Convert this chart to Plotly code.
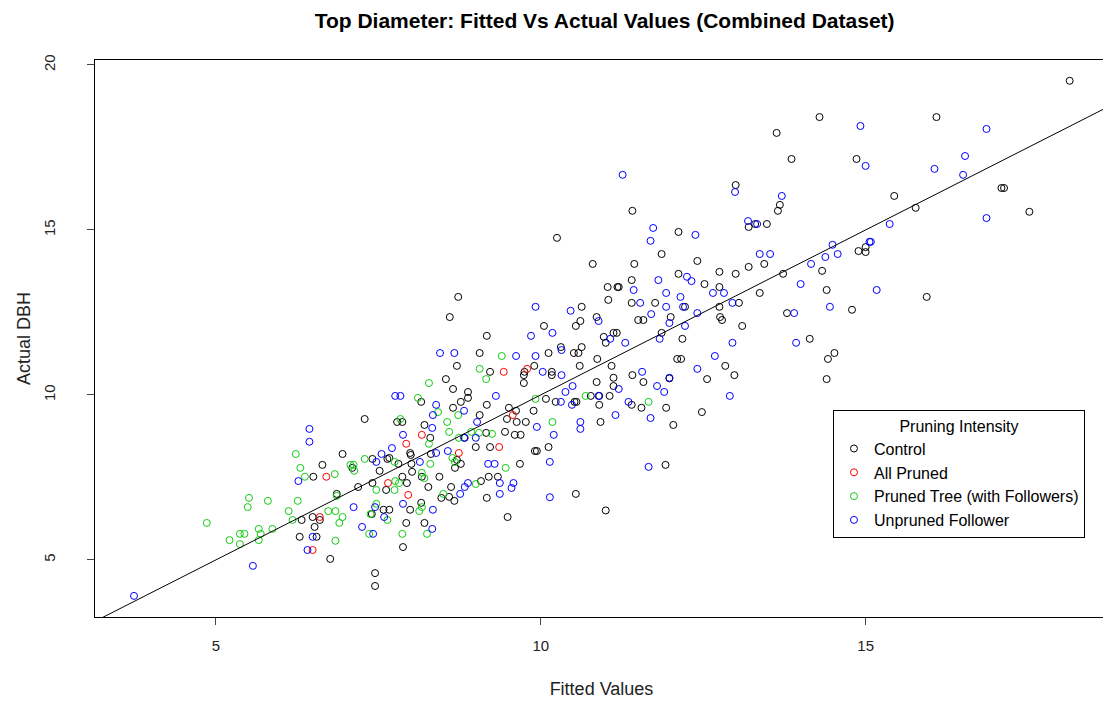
import plotly.graph_objs as go

# Control
control_fitted = [7.29, 6.95, 7.41, 7.64, 6.64, 7.10, 7.52, 6.50, 7.41, 7.19, 7.62, 6.86, 7.58, 7.40, 6.49, 6.60, 6.32, 6.52, 6.29, 6.55, 6.76, 7.45, 7.45,
                  8.73, 8.60, 9.17, 9.06, 8.71, 9.22, 9.75, 9.90, 9.74, 9.74, 8.54, 8.65, 8.88, 8.88, 8.77, 8.16, 8.65, 9.17, 9.51, 9.62, 9.89, 9.06, 7.79, 7.87, 8.21, 9.48, 9.63, 9.77,
                  8.30, 7.99, 8.00, 8.31, 7.67, 7.81, 8.01, 8.71, 8.77, 8.68, 8.02, 8.17, 8.44, 7.87, 7.94, 8.27, 8.62, 8.47, 8.59, 8.67, 9.08, 9.20, 9.34, 9.17, 9.49, 9.00, 9.22, 8.82, 9.16, 9.45, 9.60, 9.69, 9.68, 9.91, 9.94, 7.99, 8.16, 7.67, 7.93, 8.21, 7.88,
                  10.63, 11.40, 11.76, 12.22, 12.00, 10.61, 10.86, 11.50, 11.58, 10.05, 10.54, 11.12, 11.17, 10.97, 11.00, 11.86, 12.18, 10.31, 10.63, 10.12, 10.51, 10.58, 10.87, 12.10, 12.16, 10.60, 11.09, 10.17, 10.17, 11.41, 11.98, 11.12, 10.86, 11.58, 11.12, 10.77, 10.90, 11.06, 10.08, 10.23, 10.52, 10.55, 11.40, 10.90, 11.55, 11.93, 10.92, 12.04, 10.12, 11.92,
                  11.41, 10.25, 12.12, 11.86, 10.80, 11.44, 11.40, 12.12, 11.03, 11.18, 11.20, 11.04,
                  14.29, 13.63, 13.86, 13.00, 13.68, 13.65, 13.20, 13.30, 13.48, 12.41, 13.44, 13.20, 12.75, 13.00, 12.52, 12.75, 13.37, 13.73, 14.33, 14.40,
                  12.75, 13.05, 12.76, 12.79, 13.10, 13.79, 14.14, 12.84, 12.56, 12.98, 12.48, 14.42, 14.52, 14.40,
                  16.09, 14.86, 15.44, 15.77, 14.89, 15.00, 15.00, 14.79, 15.94,
                  18.14, 17.09, 17.13, 17.52, 10.54, 11.00]
control_actual = [9.27, 8.21, 8.06, 8.06, 7.88, 7.79, 7.70, 7.52, 7.33, 7.21, 7.12, 7.00, 6.52, 6.39, 6.30, 6.21, 6.21, 6.00, 5.70, 5.70, 5.03, 4.60, 4.21,
                  12.97, 12.36, 11.79, 11.27, 10.88, 10.70, 10.70, 10.88, 10.60, 10.36, 10.48, 10.18, 10.09, 9.91, 9.79, 9.79, 9.61, 9.70, 9.61, 9.52, 9.52, 9.39, 9.18, 9.18, 9.09, 9.27, 9.18, 9.18,
                  8.70, 8.24, 8.18, 8.21, 8.09, 7.91, 7.91, 8.03, 7.91, 7.79, 7.67, 7.52, 7.52, 7.52, 7.33, 7.21, 7.21, 6.88, 6.91, 6.79, 7.39, 7.52, 7.52, 6.88, 6.30, 8.42, 8.42, 8.70, 8.85, 8.88, 8.79, 8.79, 7.91, 8.30, 8.30, 6.52, 6.73, 6.52, 6.12, 6.12, 5.39,
                  12.67, 12.79, 12.79, 12.67, 12.36, 12.24, 12.36, 12.27, 12.27, 12.09, 12.09, 11.88, 11.88, 11.76, 11.58, 11.88, 11.70, 11.45, 11.45, 11.27, 11.27, 11.27, 11.09, 11.09, 11.09, 10.88, 10.88, 10.70, 10.60, 10.60, 10.50, 10.52, 10.39, 10.39, 10.27, 9.97, 9.97, 9.97, 9.88, 9.79, 9.79, 9.79, 9.70, 9.70, 9.61, 9.61, 9.18, 9.09, 8.42, 7.88,
                  15.58, 14.76, 14.94, 14.27, 13.97, 13.97, 13.48, 13.67, 13.27, 13.27, 13.27, 12.88,
                  18.42, 17.94, 17.15, 16.36, 15.76, 15.58, 15.09, 15.18, 15.18, 14.06, 13.97, 13.88, 13.73, 13.67, 13.36, 13.27, 13.09, 13.67, 13.76, 13.18,
                  12.67, 12.79, 12.36, 12.27, 12.09, 12.48, 11.70, 10.88, 10.48, 10.60, 9.48, 11.09, 11.27, 10.48,
                  18.42, 17.15, 16.03, 15.67, 14.36, 14.48, 14.33, 12.58, 12.97,
                  19.52, 16.27, 16.27, 15.55, 7.00, 6.50]

# All Pruned
allpruned_fitted = [6.70, 7.65, 6.60, 6.49, 9.43, 9.79, 9.57, 8.17, 7.93, 8.74, 9.36, 7.96]
allpruned_actual = [7.52, 7.33, 6.30, 5.30, 10.70, 10.79, 9.39, 8.79, 8.52, 8.24, 8.42, 6.97]

# Pruned Tree (with Followers)
prunedtree_fitted = [5.51, 5.49, 4.86, 5.21, 5.37, 5.44, 5.37,
                     6.23, 7.29, 7.07, 7.12, 7.13, 6.30, 6.83, 6.37, 7.47, 6.86,
                     5.80, 6.26, 6.12, 6.73, 6.84, 7.47, 7.38, 7.64, 6.95, 6.18, 6.90, 5.87, 5.66, 7.36, 5.69, 5.66, 6.84,
                     9.40, 9.06, 9.16, 8.28, 8.11, 8.42, 8.73, 9.92, 8.56, 7.84,
                     8.59, 8.28, 7.75, 8.30, 8.64, 8.68, 8.17, 8.21, 7.76, 7.82, 7.75, 8.50, 9.00, 9.05, 9.25, 8.93, 8.74, 9.46, 8.17, 8.13, 8.25, 7.87,
                     10.69, 11.66, 10.18]
prunedtree_actual = [6.88, 6.60, 6.12, 5.60, 5.79, 5.79, 5.48,
                     8.21, 8.06, 7.88, 7.88, 7.70, 7.79, 7.60, 7.52, 7.12, 6.94,
                     6.79, 6.79, 6.48, 6.48, 6.48, 6.70, 6.39, 6.21, 6.30, 6.21, 6.12, 5.94, 5.94, 5.79, 5.79, 5.60, 5.58,
                     11.18, 10.79, 10.48, 10.36, 9.91, 9.48, 9.39, 9.88, 9.18, 9.27,
                     8.88, 8.52, 7.97, 7.91, 8.09, 7.97, 7.64, 7.48, 7.39, 7.33, 7.12, 7.00, 7.30, 8.85, 8.82, 8.88, 8.70, 7.79, 6.60, 6.48, 5.79, 5.79,
                     9.97, 9.79, 9.18]

# Unpruned Follower
unpruned_fitted = [3.74, 5.57,
                   6.44, 6.44, 7.55, 7.47, 6.27, 7.12, 7.45, 7.59, 7.25, 7.42, 6.49, 6.41,
                   9.92, 9.85, 8.45, 8.67, 9.62, 9.92, 7.76, 7.84, 9.31, 8.39, 8.34, 8.82, 9.02, 8.33, 9.94,
                   7.88, 7.71, 8.39, 8.57, 8.14, 8.76, 8.83, 8.88, 9.37, 9.37, 9.58, 9.55, 8.83, 9.00, 9.19, 9.29, 7.88, 8.34, 8.33,
                   10.46, 11.53, 11.93, 12.19, 11.70, 10.89, 11.98, 12.22, 10.18, 11.07, 11.30, 11.83, 10.32, 10.03, 10.32, 11.56, 11.98, 10.49, 11.79, 11.20, 11.90, 10.38, 10.89, 10.31, 10.48, 11.35, 11.15, 11.69, 10.61, 10.61, 10.20, 10.14, 11.66,
                   11.26, 11.73, 11.69, 11.81, 12.25, 11.43, 11.93, 12.15,
                   12.99, 13.71, 13.19, 13.33, 12.38, 13.37, 13.53, 12.32, 12.65, 12.82, 14.00, 14.16, 14.38, 14.49, 14.57,
                   12.95, 12.41, 13.90, 14.45, 12.95, 13.93, 12.68, 12.41, 12.91,
                   14.92, 16.86, 15.00, 16.06, 16.53, 16.50, 16.86, 15.37, 15.08, 15.06, 15.17, 10.14]
unpruned_actual = [3.91, 4.82,
                   8.97, 8.58, 8.21, 7.97, 7.39, 6.60, 6.60, 6.30, 6.00, 5.79, 5.70, 5.30,
                   12.67, 11.79, 11.27, 11.27, 11.18, 11.18, 9.97, 9.97, 9.97, 9.70, 9.39, 9.52, 9.18, 9.00, 9.03,
                   8.79, 8.39, 8.24, 8.30, 7.97, 7.00, 7.21, 7.33, 7.33, 7.00, 7.33, 7.18, 8.70, 8.70, 7.91, 7.91, 6.70, 6.52, 5.94,
                   12.55, 12.79, 12.67, 12.67, 12.45, 12.24, 12.18, 12.09, 11.88, 11.70, 11.58, 11.70, 11.36, 10.70, 10.60, 10.70, 10.52, 10.27, 10.27, 10.18, 10.09, 10.09, 9.97, 9.79, 9.70, 9.79, 9.39, 9.30, 9.18, 8.97, 8.79, 7.97, 7.82,
                   16.67, 15.06, 14.67, 13.48, 13.58, 13.18, 13.09, 12.97,
                   16.15, 16.03, 15.27, 15.18, 14.85, 14.27, 14.27, 13.45, 13.09, 13.09, 13.36, 13.97, 14.18, 14.55, 14.27,
                   12.79, 12.48, 12.48, 12.67, 11.58, 11.58, 11.18, 10.79, 9.97,
                   18.15, 18.06, 16.94, 16.85, 17.24, 16.67, 15.36, 15.18, 14.64, 14.64, 13.18, 6.90]

x_range = [3.14, 18.73]
y_range = [3.27, 20.15]

groups = [
    ('Control', control_fitted, control_actual, 'black'),
    ('All Pruned', allpruned_fitted, allpruned_actual, '#ff0000'),
    ('Pruned Tree (with Followers)', prunedtree_fitted, prunedtree_actual, '#11cc11'),
    ('Unpruned Follower', unpruned_fitted, unpruned_actual, '#0000ff'),
]

fig = go.Figure()
for name, fx, ay, col in groups:
    fig.add_trace(go.Scatter(
        x=fx, y=ay, mode='markers', name=name,
        marker=dict(symbol='circle-open', size=7, color=col, line=dict(width=1, color=col))
    ))

# 1:1 line
fig.add_trace(go.Scatter(x=x_range, y=x_range, mode='lines', showlegend=False,
                         line=dict(color='black', width=1)))

# the page body adds an 8px margin, so plot margins are offset by that
fig.update_layout(
    width=1111, height=703,
    paper_bgcolor='white', plot_bgcolor='white',
    font=dict(family='Liberation Sans, Arial, sans-serif', size=15, color='#222'),
    title=dict(text='<b>Top Diameter: Fitted Vs Actual Values (Combined Dataset)</b>',
               x=0.537, xanchor='center', y=0.982, yanchor='middle', yref='container',
               font=dict(size=21, color='black')),
    margin=dict(l=87, r=11, t=52, b=94),
    legend=dict(
        title=dict(text='Pruning Intensity', side='top center', font=dict(size=16)),
        x=0.7285, y=0.372, xanchor='left', yanchor='top',
        bgcolor='white', bordercolor='black', borderwidth=1,
        font=dict(size=16, color='black'), tracegroupgap=0, itemsizing='trace'
    ),
    xaxis=dict(range=x_range, tickvals=[5, 10, 15], ticks='outside', ticklen=7,
               ticklabelstandoff=8, automargin=False,
               showline=True, linecolor='black', linewidth=1, mirror=True,
               showgrid=False, zeroline=False,
               title=dict(text='Fitted Values', standoff=29)),
    yaxis=dict(range=y_range, tickvals=[5, 10, 15, 20], ticks='outside', ticklen=7,
               tickangle=-90, ticklabelstandoff=26, automargin=False,
               showline=True, linecolor='black', linewidth=1, mirror=True,
               showgrid=False, zeroline=False,
               title=dict(text='Actual DBH', standoff=5)),
)

fig.write_html("out.html")
